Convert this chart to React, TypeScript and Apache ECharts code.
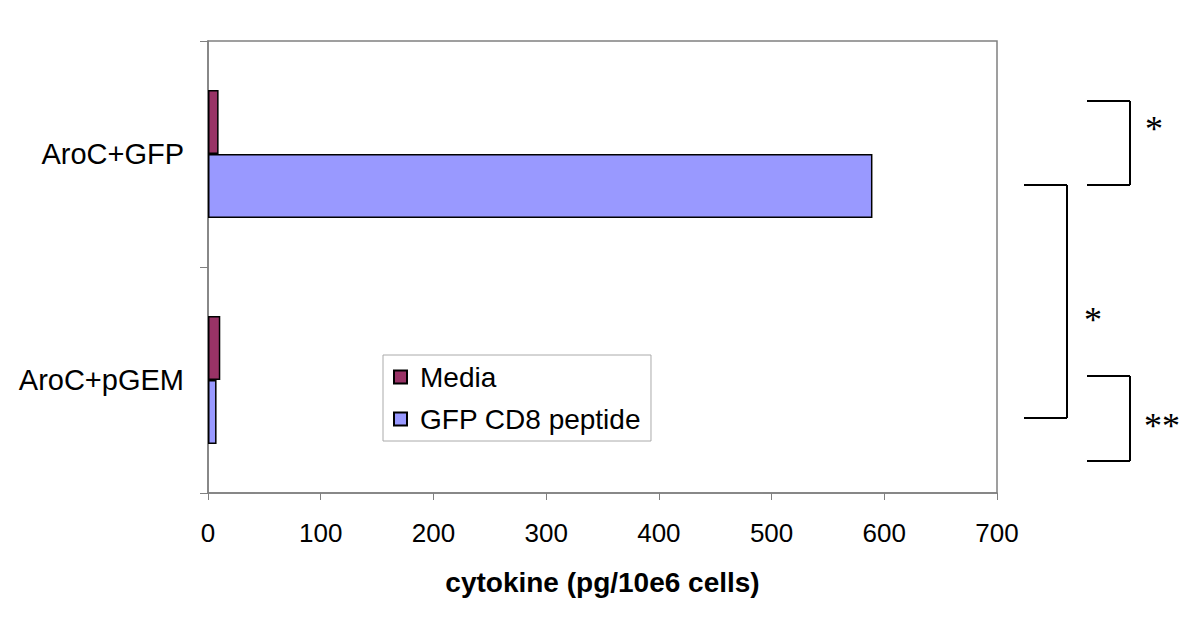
import React, { useEffect, useRef } from "react";
import * as echarts from "echarts";

const categories = ["AroC+pGEM", "AroC+GFP"];
const mediaValues = [10.9, 9.4];
const peptideValues = [7.6, 589.5];
const seriesNames = ["Media", "GFP CD8 peptide"];
const xTicks = { min: 0, max: 700, interval: 100 };
const axisTitle = "cytokine (pg/10e6 cells)";

const FONT = "'Liberation Sans', Arial, sans-serif";
const SERIF = "'Liberation Serif', 'Times New Roman', serif";

export default function App() {
  const ref = useRef<HTMLDivElement>(null);
  useEffect(() => {
    document.body.style.margin = "0";
    if (!ref.current) return;
    const chart = echarts.init(ref.current, undefined, { renderer: "svg" });
    const lineStyle = { stroke: "#000", lineWidth: 2 };
    const seg = (x1: number, y1: number, x2: number, y2: number) => ({
      type: "line",
      shape: { x1, y1, x2, y2 },
      style: lineStyle,
      silent: true,
    });
    const star = (x: number, y: number, text: string) => ({
      type: "text",
      x,
      y,
      style: {
        text,
        font: `36px ${SERIF}`,
        fill: "#000",
        textAlign: "center",
        textVerticalAlign: "middle",
      },
      silent: true,
    });
    chart.setOption({
      animation: false,
      backgroundColor: "#fff",
      textStyle: { fontFamily: FONT },
      grid: {
        left: 208,
        right: 203,
        top: 41,
        bottom: 141,
        show: true,
        borderColor: "#808080",
        borderWidth: 1.5,
        backgroundColor: "transparent",
      },
      legend: {
        data: seriesNames,
        orient: "vertical",
        left: 383,
        top: 355,
        padding: [8, 10, 8, 10],
        itemGap: 14,
        itemWidth: 13,
        itemHeight: 13,
        icon: "rect",
        borderColor: "#aaaaaa",
        borderWidth: 1,
        backgroundColor: "#fff",
        textStyle: {
          fontFamily: FONT,
          fontSize: 28,
          color: "#000",
          padding: [0, 0, 0, 8],
        },
      },
      xAxis: {
        type: "value",
        min: xTicks.min,
        max: xTicks.max,
        interval: xTicks.interval,
        splitLine: { show: false },
        axisLine: { show: true, lineStyle: { color: "#808080", width: 1.5 } },
        axisTick: { show: true, length: 7, lineStyle: { color: "#808080" } },
        axisLabel: { fontSize: 26, color: "#000", margin: 27, fontFamily: FONT },
        name: axisTitle,
        nameLocation: "middle",
        nameGap: 75,
        nameTextStyle: {
          fontSize: 28,
          fontWeight: "bold",
          color: "#000",
          fontFamily: FONT,
        },
      },
      yAxis: {
        type: "category",
        data: categories,
        axisLine: { show: true, lineStyle: { color: "#808080", width: 1.5 } },
        axisTick: { show: true, length: 8, lineStyle: { color: "#808080" } },
        axisLabel: { fontSize: 29, color: "#000", margin: 24, fontFamily: FONT },
      },
      series: [
        {
          name: seriesNames[0],
          type: "bar",
          data: mediaValues,
          barWidth: 64,
          barGap: "0%",
          itemStyle: { color: "#993366", borderColor: "#000", borderWidth: 1.5 },
        },
        {
          name: seriesNames[1],
          type: "bar",
          data: peptideValues,
          barWidth: 64,
          barGap: "0%",
          itemStyle: { color: "#9999FF", borderColor: "#000", borderWidth: 1.5 },
        },
      ],
      graphic: [
        seg(1087, 101, 1130, 101),
        seg(1130, 101, 1130, 185),
        seg(1087, 185, 1130, 185),
        seg(1024, 185, 1067, 185),
        seg(1067, 185, 1067, 418),
        seg(1024, 418, 1067, 418),
        seg(1087, 376, 1130, 376),
        seg(1130, 376, 1130, 461),
        seg(1087, 461, 1130, 461),
        star(1154, 129, "*"),
        star(1093, 320, "*"),
        star(1162, 426, "**"),
      ],
    });
    return () => chart.dispose();
  }, []);
  return <div ref={ref} style={{ width: 1200, height: 634 }} />;
}
